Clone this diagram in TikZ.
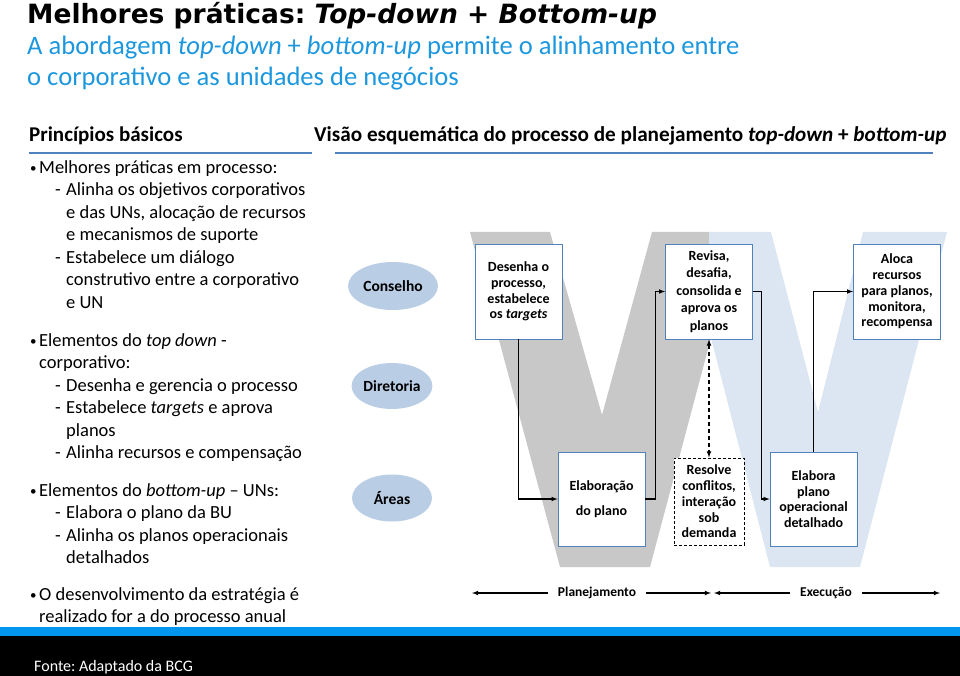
\documentclass[tikz,border=0pt]{standalone}
\usepackage{fontspec}
\setmainfont{Carlito}
\newfontfamily\titlefont{DejaVu Sans}
\usepackage{xcolor}
\usetikzlibrary{shapes,arrows}
\frenchspacing

\definecolor{wgrey}{RGB}{200,200,200}
\definecolor{wblue}{RGB}{220,230,242}
\definecolor{boxblue}{RGB}{79,129,189}
\definecolor{subblue}{RGB}{28,151,222}
\definecolor{barblue}{RGB}{0,150,240}
\definecolor{unitfill}{RGB}{185,205,229}

\newcommand{\bul}{\makebox[9pt][l]{\raisebox{1pt}{\fontsize{13}{13}\selectfont\textbullet}}}
\newcommand{\dsh}{\hspace*{25pt}\makebox[11pt][l]{-}}
\newcommand{\cnt}{\hspace*{36pt}}
\newcommand{\wletter}{(470,232) -- (550,232) -- (602,415) -- (652,232) -- (771,232) -- (818,412) -- (863,232) -- (947,232) -- (860,567) -- (770,567) -- (711,338) -- (650,567) -- (560,567) -- cycle}

\tikzset{
    stepbox/.style={draw=boxblue, line width=0.8pt, fill=white, align=center,
        minimum width=87pt, minimum height=95pt, inner sep=1pt,
        font=\bfseries\fontsize{14}{15.7}\selectfont},
    orgunit/.style={ellipse, fill=unitfill, inner sep=0pt,
        font=\bfseries\fontsize{15.5}{18}\selectfont},
    flow/.style={-latex, line width=1.1pt},
    rule/.style={line width=1.6pt, draw=boxblue},
    bodytext/.style={anchor=north west, inner sep=0pt, align=left,
        font=\fontsize{18.5}{22.5}\selectfont},
    phase/.style={inner xsep=10pt, font=\bfseries\fontsize{13.5}{16}\selectfont}
}

\begin{document}
\begin{tikzpicture}[x=1pt, y=-1pt]
    \useasboundingbox (0,0) rectangle (960,676);

    \node[anchor=base west, inner sep=0pt,
        font=\titlefont\bfseries\fontsize{26.5}{30}\selectfont] (title) at (27,24)
        {Melhores práticas: \textit{Top-down} + \textit{Bottom-up}};
    \node[anchor=north west, inner sep=0pt, align=left, text=subblue,
        font=\fontsize{26.6}{31}\selectfont] (subtitle) at (27,36)
        {A abordagem \textit{top-down} + \textit{bottom-up} permite o alinhamento entre\\
         o corporativo e as unidades de negócios};

    \node[anchor=base west, inner sep=0pt, font=\bfseries\fontsize{21}{24}\selectfont] (principios) at (29,142) {Princípios básicos};
    \node[anchor=base west, inner sep=0pt, font=\bfseries\fontsize{21.2}{24}\selectfont] (visao) at (314,142)
        {Visão esquemática do processo de planejamento \textit{top-down} + \textit{bottom-up}};
    \draw[rule] (29,153) -- (312,153);
    \draw[rule] (335,153) -- (933,153);

    \node[bodytext] (processo) at (30,160) {%
        \bul Melhores práticas em processo:\\
        \dsh Alinha os objetivos corporativos\\
        \cnt e das UNs, alocação de recursos\\
        \cnt e mecanismos de suporte\\
        \dsh Estabelece um diálogo\\
        \cnt construtivo entre a corporativo\\
        \cnt e UN};
    \node[bodytext] (topdown) at (30,333) {%
        \bul Elementos do \textit{top down} -\\
        \hspace*{9pt}corporativo:\\
        \dsh Desenha e gerencia o processo\\
        \dsh Estabelece \textit{targets} e aprova\\
        \cnt planos\\
        \dsh Alinha recursos e compensação};
    \node[bodytext] (bottomup) at (30,483) {%
        \bul Elementos do \textit{bottom-up} – UNs:\\
        \dsh Elabora o plano da BU\\
        \dsh Alinha os planos operacionais\\
        \cnt detalhados};
    \node[bodytext] (anual) at (30,587) {%
        \bul O desenvolvimento da estratégia é\\
        \hspace*{9pt}realizado for a do processo anual};

    \begin{scope}
        \clip (0,0) rectangle (709,676);
        \fill[wgrey] \wletter;
    \end{scope}
    \begin{scope}
        \clip (709,0) rectangle (960,676);
        \fill[wblue] \wletter;
    \end{scope}

    \node[orgunit, minimum width=90pt, minimum height=48pt] (conselho) at (393,286) {Conselho};
    \node[orgunit, minimum width=80pt, minimum height=46pt] (diretoria) at (392,386) {Diretoria};
    \node[orgunit, minimum width=80pt, minimum height=47pt] (areas) at (392,498) {Áreas};

    \node[stepbox] (desenha) at (518.5,291.5) {Desenha o\\processo,\\estabelece\\os \textit{targets}};
    \node[stepbox, font=\bfseries\fontsize{14}{17.5}\selectfont] (revisa) at (709,291.5) {Revisa,\\desafia,\\consolida e\\aprova os\\planos};
    \node[stepbox] (aloca) at (897,291.5) {Aloca\\recursos\\para planos,\\monitora,\\recompensa};
    \node[stepbox, minimum height=94pt] (elaboracao) at (601.5,499) {Elaboração\\[9pt]do plano};
    \node[stepbox, draw=black, line width=1pt, dash pattern=on 3pt off 2pt,
        minimum width=70pt, minimum height=87pt] (resolve) at (709,501.5) {Resolve\\conflitos,\\interação\\sob\\demanda};
    \node[stepbox, minimum height=94pt] (elabora) at (813.5,499) {Elabora\\plano\\operacional\\detalhado};

    \draw[flow] (desenha.south) |- (elaboracao.west);
    \draw[flow] (elaboracao.east) -- ++(10,0) |- (revisa.west);
    \draw[flow] (revisa.east) -- ++(9,0) |- (elabora.west);
    \draw[flow] (elabora.north) |- (aloca.west);
    \draw[
        flow,
        latex-latex,
        dash pattern=on 4pt off 3pt
    ] (revisa.south) -- (resolve.north);

    \node[phase] (planejamento) at (597,593) {Planejamento};
    \node[phase] (execucao) at (826,593) {Execução};
    \coordinate (planstart) at (472,593);
    \coordinate (planend) at (711,593);
    \coordinate (execstart) at (714,593);
    \coordinate (execend) at (940,593);
    \draw[flow] (planejamento) -- (planstart);
    \draw[flow] (planejamento) -- (planend);
    \draw[flow] (execucao) -- (execstart);
    \draw[flow] (execucao) -- (execend);

    \fill[barblue] (0,627) rectangle (960,636);
    \fill[black] (0,636) rectangle (960,676);
    \node[anchor=base west, inner sep=0pt, text=white,
        font=\fontsize{16}{18}\selectfont] (fonte) at (34,671) {Fonte: Adaptado da BCG};
\end{tikzpicture}
\end{document}
